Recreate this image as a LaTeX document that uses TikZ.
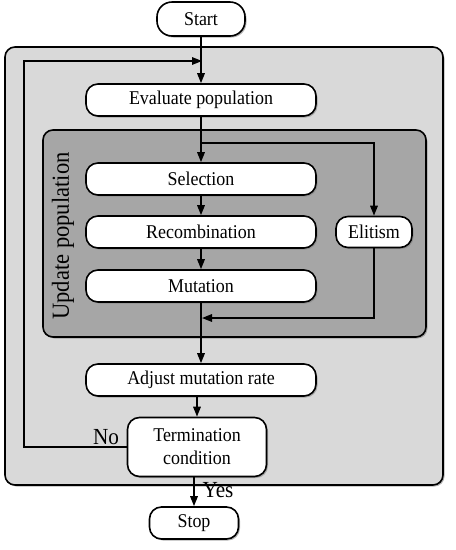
\documentclass[tikz,border=0pt]{standalone}
\usepackage{fontspec}
\setmainfont{Liberation Serif}[FakeStretch=0.92]
\usetikzlibrary{arrows.meta,shadows}

\definecolor{outergray}{RGB}{217,217,217}
\definecolor{innergray}{RGB}{166,166,166}

\tikzset{
  block/.style={draw, line width=1.6pt, fill=white, rounded corners=12pt,
                minimum height=32pt, inner sep=2pt, align=center,
                font=\fontsize{19.5}{23}\selectfont,
                drop shadow={shadow xshift=1.5pt, shadow yshift=-1.5pt, opacity=0.6}},
  panel/.style={draw, line width=1.6pt, rounded corners=10pt,
                drop shadow={shadow xshift=1.5pt, shadow yshift=-1.5pt, opacity=0.6}},
  arrow/.style={line width=1.6pt, -{Triangle[length=10pt,width=7.5pt]}},
  tag/.style={font=\fontsize{23}{26}\selectfont, inner sep=0pt}
}

\begin{document}
\begin{tikzpicture}[x=1pt, y=-1pt]
  \useasboundingbox (0,0) rectangle (456,550);

  % panels
  \draw[panel, fill=outergray] (5,47) rectangle (443,485);
  \draw[panel, fill=innergray] (43,130) rectangle (426,337);
  \node[tag, font=\fontsize{24.5}{27}\selectfont, rotate=90] (upd) at (63,236) {Update population};

  % blocks
  \node[block, minimum width=88pt, minimum height=34pt, rounded corners=15pt] (start) at (201,19) {Start};
  \node[block, minimum width=230pt] (eval) at (201,100) {Evaluate population};
  \node[block, minimum width=230pt] (sel) at (201,179) {Selection};
  \node[block, minimum width=230pt] (rec) at (201,232) {Recombination};
  \node[block, minimum width=230pt] (mut) at (201,286) {Mutation};
  \node[block, minimum width=76pt, minimum height=31pt] (elit) at (374,232) {Elitism};
  \node[block, minimum width=230pt] (adj) at (201,380) {Adjust mutation rate};
  \node[block, minimum width=139pt, minimum height=59pt] (term) at (197,447) {Termination\\condition};
  \node[block, minimum width=89pt] (stop) at (194,523) {Stop};

  \coordinate (loop) at (202,61);
  \coordinate (split) at (202,143);
  \coordinate (merge) at (202,318);

  % connectors
  \draw[arrow] (start.south) -- (eval.north);
  \draw[arrow] (term.west) -- ++(-103,0) |- (loop);
  \draw[arrow] (eval.south) -- (sel.north);
  \draw[arrow] (split) -| (elit.north);
  \draw[arrow] (sel.south) -- (rec.north);
  \draw[arrow] (rec.south) -- (mut.north);
  \draw[arrow] (mut.south) -- (adj.north);
  \draw[arrow] (elit.south) |- (merge);
  \draw[arrow] (adj.south -| term.north) -- (term.north);
  \draw[arrow] (term.south -| stop.north) -- (stop.north);

  \node[tag] (no) at (106,437) {No};
  \node[tag] (yes) at (218,490) {Yes};
\end{tikzpicture}
\end{document}
